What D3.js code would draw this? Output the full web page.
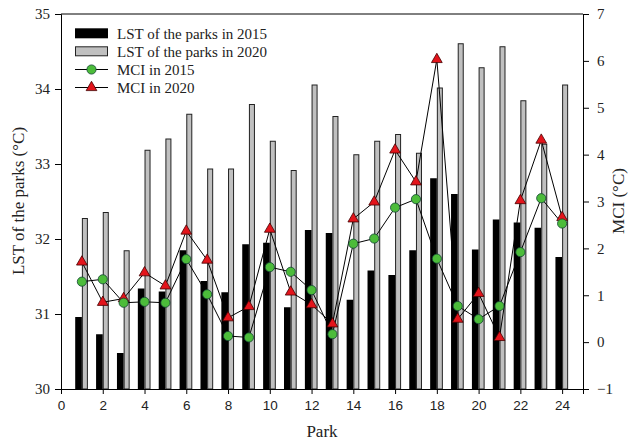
<!DOCTYPE html>
<html>
<head>
<meta charset="utf-8">
<script src="https://cdn.jsdelivr.net/npm/d3@7"></script>
<style>
  html, body { margin: 0; padding: 0; background: #fff; }
  svg { display: block; }
</style>
</head>
<body>
<svg id="chart" width="629" height="441"></svg>
<script>
// Park numbers
const parks = d3.range(1, 25);
// Land surface temperature of each park (°C)
const lst2015 = [30.96, 30.73, 30.48, 31.34, 31.30, 31.85, 31.44, 31.29, 31.93, 31.95, 31.09, 32.12,
                 32.08, 31.19, 31.58, 31.52, 31.85, 32.81, 32.60, 31.86, 32.26, 32.22, 32.15, 31.76];
const lst2020 = [32.28, 32.36, 31.85, 33.19, 33.34, 33.67, 32.94, 32.94, 33.80, 33.31, 32.92, 34.06,
                 33.64, 33.13, 33.31, 33.40, 33.15, 34.02, 34.61, 34.29, 34.57, 33.85, 33.27, 34.06];
// Maximum cooling intensity of each park (°C)
const mci2015 = [1.29, 1.34, 0.84, 0.86, 0.84, 1.77, 1.02, 0.13, 0.10, 1.60, 1.50, 1.11,
                 0.17, 2.10, 2.21, 2.87, 3.05, 1.78, 0.77, 0.49, 0.77, 1.92, 3.07, 2.53];
const mci2020 = [1.71, 0.85, 0.93, 1.48, 1.20, 2.37, 1.75, 0.52, 0.76, 2.41, 1.07, 0.80,
                 0.39, 2.63, 2.99, 4.10, 3.42, 6.03, 0.49, 1.04, 0.10, 3.02, 4.31, 2.66];
// Axis ticks
const xTicks = d3.range(0, 25, 2);
const lstTicks = [30, 31, 32, 33, 34, 35];
const mciTicks = [-1, 0, 1, 2, 3, 4, 5, 6, 7];

const svg = d3.select("#chart");
const serif = "'Liberation Serif', 'Times New Roman', serif";
const sans = "'Liberation Sans', Arial, sans-serif";

const x = d3.scaleLinear().domain([0, 25]).range([61, 583]);
const yL = d3.scaleLinear().domain([30, 35]).range([389, 14]);
const yR = d3.scaleLinear().domain([-1, 7]).range([389, 14]);

const barW = 0.32; // bar width in park units

// Bars: 2015 to the left of each park position, 2020 to the right
svg.append("g").selectAll("rect").data(parks).join("rect")
  .attr("x", (d) => x(d - barW))
  .attr("y", (d, i) => yL(lst2015[i]))
  .attr("width", x(barW) - x(0))
  .attr("height", (d, i) => yL(30) - yL(lst2015[i]))
  .attr("fill", "#000");

svg.append("g").selectAll("rect").data(parks).join("rect")
  .attr("x", (d) => x(d) + 0.5)
  .attr("y", (d, i) => yL(lst2020[i]) + 0.5)
  .attr("width", x(barW * 0.9) - x(0) - 1)
  .attr("height", (d, i) => yL(30) - yL(lst2020[i]) - 0.5)
  .attr("fill", "#c0c0c0")
  .attr("stroke", "#222")
  .attr("stroke-width", 1);

// MCI lines
const line = (vals) => d3.line().x((d, i) => x(parks[i])).y((d) => yR(d))(vals);
svg.append("path").attr("d", line(mci2020)).attr("fill", "none").attr("stroke", "#000").attr("stroke-width", 1);
svg.append("path").attr("d", line(mci2015)).attr("fill", "none").attr("stroke", "#000").attr("stroke-width", 1);

const tri = d3.symbol().type(d3.symbolTriangle).size(50);
svg.append("g").selectAll("path").data(mci2020).join("path")
  .attr("d", tri)
  .attr("transform", (d, i) => `translate(${x(parks[i])},${yR(d)})`)
  .attr("fill", "#e3141b").attr("stroke", "#400").attr("stroke-width", 0.8);

svg.append("g").selectAll("circle").data(mci2015).join("circle")
  .attr("cx", (d, i) => x(parks[i]))
  .attr("cy", (d) => yR(d))
  .attr("r", 4.6)
  .attr("fill", "#4cbc3a").attr("stroke", "#143").attr("stroke-width", 0.8);

// Frame
svg.append("line").attr("x1", x(0)).attr("x2", x(25)).attr("y1", yL(35)).attr("y2", yL(35))
  .attr("stroke", "#000");

// Axes
const gl = svg.append("g").attr("transform", `translate(${x(0)},0)`)
  .call(d3.axisLeft(yL).tickValues(lstTicks).tickSize(6).tickPadding(5).tickFormat(d3.format("d")));
const gr = svg.append("g").attr("transform", `translate(${x(25)},0)`)
  .call(d3.axisRight(yR).tickValues(mciTicks).tickSize(6).tickPadding(8).tickFormat(d3.format("d")));
const gb = svg.append("g").attr("transform", `translate(0,${yL(30)})`)
  .call(d3.axisBottom(x).tickValues(xTicks).tickSize(5).tickPadding(6).tickFormat(d3.format("d")));

[gl, gr].forEach((g) => g.selectAll("text").attr("font-family", serif).attr("font-size", 15).attr("fill", "#222"));
gb.selectAll("text").attr("font-family", sans).attr("font-size", 13.5).attr("fill", "#222");
[gl, gr, gb].forEach((g) => {
  g.select(".domain").attr("stroke", "#000");
  g.selectAll(".tick line").attr("stroke", "#000");
});

// Axis titles
svg.append("text").attr("transform", "translate(24,201) rotate(-90)")
  .attr("text-anchor", "middle").attr("font-family", serif).attr("font-size", 17).attr("fill", "#222")
  .text("LST of the parks (°C)");
svg.append("text").attr("transform", "translate(624,201) rotate(-90)")
  .attr("text-anchor", "middle").attr("font-family", serif).attr("font-size", 17).attr("fill", "#222")
  .text("MCI (°C)");
svg.append("text").attr("x", 322).attr("y", 437)
  .attr("text-anchor", "middle").attr("font-family", serif).attr("font-size", 17).attr("fill", "#222")
  .text("Park");

// Legend
const legend = svg.append("g").attr("font-family", serif).attr("font-size", 15).attr("fill", "#222");
const rowY = [33.3, 51.3, 69.5, 87.5];
const labels = ["LST of the parks in 2015", "LST of the parks in 2020", "MCI in 2015", "MCI in 2020"];
legend.append("rect").attr("x", 75).attr("y", rowY[0] - 5).attr("width", 33).attr("height", 10).attr("fill", "#000");
legend.append("rect").attr("x", 75.5).attr("y", rowY[1] - 4.5).attr("width", 32).attr("height", 9)
  .attr("fill", "#c0c0c0").attr("stroke", "#222");
[2, 3].forEach((k) => legend.append("line").attr("x1", 75).attr("x2", 108)
  .attr("y1", rowY[k]).attr("y2", rowY[k]).attr("stroke", "#000"));
legend.append("circle").attr("cx", 91.5).attr("cy", rowY[2]).attr("r", 4.6)
  .attr("fill", "#4cbc3a").attr("stroke", "#143").attr("stroke-width", 0.8);
legend.append("path").attr("d", tri).attr("transform", `translate(91.5,${rowY[3]})`)
  .attr("fill", "#e3141b").attr("stroke", "#400").attr("stroke-width", 0.8);
labels.forEach((t, k) => legend.append("text").attr("x", 117).attr("y", rowY[k]).attr("dy", "0.35em").text(t));
</script>
</body>
</html>
